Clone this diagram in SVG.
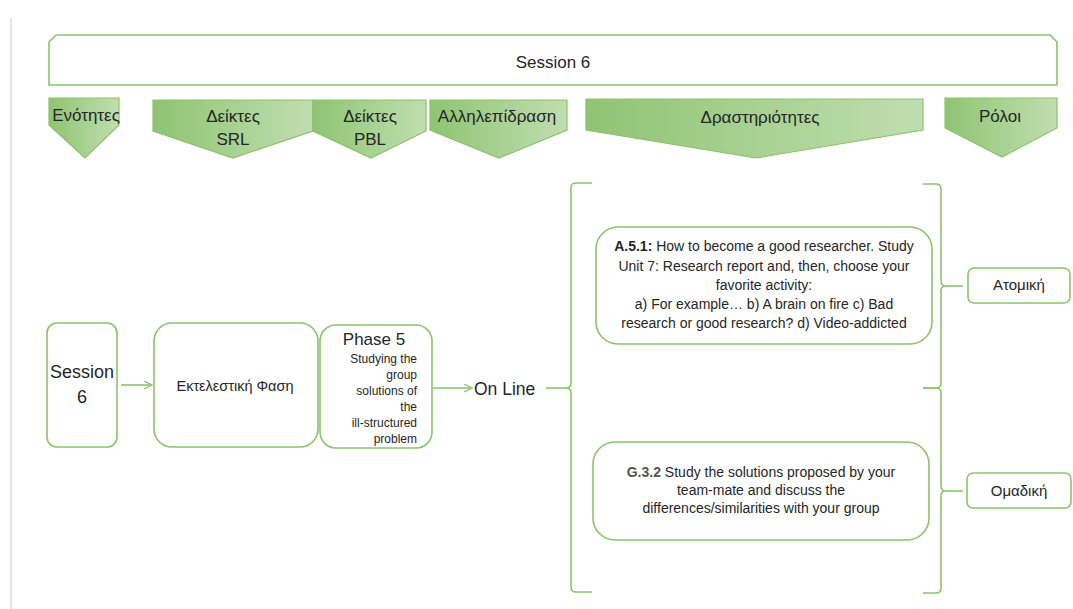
<svg xmlns="http://www.w3.org/2000/svg" width="1073" height="609" viewBox="0 0 1073 609">
<defs>
<linearGradient id="chev" x1="0" y1="0" x2="1" y2="0">
<stop offset="0" stop-color="#8fc473"/>
<stop offset="1" stop-color="#c0deb0"/>
</linearGradient>
<marker id="arr" markerWidth="10" markerHeight="10" refX="8" refY="4" orient="auto" markerUnits="userSpaceOnUse">
<path d="M0,0 L8,4 L0,8" fill="none" stroke="#8cc36b" stroke-width="1.3"/>
</marker>
<style>
text{font-family:"Liberation Sans",Arial,sans-serif;fill:#262626}
.chev{fill:url(#chev);stroke:#8bc16a;stroke-width:1.2}
.box{fill:#fff;stroke:#8cc36b;stroke-width:1.6}
.hd{font-size:17px;text-anchor:middle}
.mid{text-anchor:middle}
.con{fill:none;stroke:#8cc36b;stroke-width:1.6}
.body{font-size:14px;text-anchor:middle}
</style>
</defs>
<rect width="1073" height="609" fill="#fff"/>
<line x1="11" y1="18" x2="11" y2="609" stroke="#d4d4d4" stroke-width="1.2"/>

<g id="header">
<path class="box" d="M56,35 H1050 L1057,42 V85 H49 V42 Z"/>
<text class="hd" x="553" y="68">Session 6</text>
</g>

<g id="col-enotites">
<path class="chev" d="M49,98 H119 V125 L85,158 L49,125 Z"/>
<text class="hd" x="86" y="121">Ενότητες</text>
</g>
<g id="col-srl">
<path class="chev" d="M153,100 H313 V131 L233,158 L153,131 Z"/>
<text class="hd" x="233" y="122">Δείκτες</text>
<text class="hd" x="233" y="145">SRL</text>
</g>
<g id="col-pbl">
<path class="chev" d="M313,100 H426 V131 L371,158 L313,131 Z"/>
<text class="hd" x="370" y="122">Δείκτες</text>
<text class="hd" x="370" y="145">PBL</text>
</g>
<g id="col-interaction">
<path class="chev" d="M430,100 H567 V130 L499,158 L430,130 Z"/>
<text class="hd" x="497" y="122">Αλληλεπίδραση</text>
</g>
<g id="col-activities">
<path class="chev" d="M586,99 H923 V130 L756,158 L586,130 Z"/>
<text class="hd" x="760" y="123">Δραστηριότητες</text>
</g>
<g id="col-roles">
<path class="chev" d="M945,98 H1057 V128 L1002,157 L945,128 Z"/>
<text class="hd" x="1000" y="122">Ρόλοι</text>
</g>

<g id="node-session">
<rect class="box" x="47" y="323" width="70" height="124" rx="10"/>
<text class="mid" x="82" y="378" font-size="18">Session</text>
<text class="mid" x="82" y="403" font-size="18">6</text>
</g>
<g id="node-phase-exec">
<rect class="box" x="154" y="323" width="164" height="124" rx="18"/>
<text class="mid" x="235" y="391" font-size="14.5">Εκτελεστική Φαση</text>
</g>
<g id="node-phase5">
<rect class="box" x="320" y="325" width="112" height="123" rx="16"/>
<text class="mid" x="374" y="345" font-size="17">Phase 5</text>
<g font-size="12" text-anchor="end">
<text x="417" y="363">Studying the</text>
<text x="417" y="379">group</text>
<text x="417" y="395">solutions of</text>
<text x="417" y="411">the</text>
<text x="417" y="427">ill-structured</text>
<text x="417" y="443">problem</text>
</g>
</g>
<g id="node-online">
<text x="474" y="395" font-size="17.5">On Line</text>
</g>
<g id="node-a51">
<rect class="box" x="596" y="227" width="336" height="117" rx="22"/>
<text class="body" x="764" y="251"><tspan font-weight="bold">A.5.1:</tspan> How to become a good researcher. Study</text>
<text class="body" x="764" y="271">Unit 7: Research report and, then, choose your</text>
<text class="body" x="764" y="290">favorite activity:</text>
<text class="body" x="764" y="309">a) For example… b) A brain on fire c) Bad</text>
<text class="body" x="764" y="328">research or good research? d) Video-addicted</text>
</g>
<g id="node-g32">
<rect class="box" x="593" y="442" width="336" height="98" rx="22"/>
<text class="body" x="761" y="477"><tspan font-weight="bold" fill="#555">G.3.2</tspan> Study the solutions proposed by your</text>
<text class="body" x="761" y="495">team-mate and discuss the</text>
<text class="body" x="761" y="513">differences/similarities with your group</text>
</g>
<g id="node-individual">
<rect class="box" x="968" y="268" width="102" height="35" rx="6"/>
<text class="mid" x="1019" y="290" font-size="15">Ατομική</text>
</g>
<g id="node-group">
<rect class="box" x="967" y="473" width="104" height="35" rx="6"/>
<text class="mid" x="1019" y="496" font-size="15">Ομαδική</text>
</g>

<g id="connectors">
<line class="con" x1="121" y1="385" x2="152" y2="385" marker-end="url(#arr)"/>
<line class="con" x1="433" y1="388" x2="472" y2="388" marker-end="url(#arr)"/>
<path class="con" d="M546,388 H566"/>
<path class="con" d="M592,183 H576 Q571,183 571,188 V383 Q571,388 566,388 Q571,388 571,393 V587 Q571,592 576,592 H592"/>
<path class="con" d="M923,184 H936 Q941,184 941,189 V281 Q941,286 946,286 Q941,286 941,291 V383 Q941,388 936,388 H923"/>
<path class="con" d="M946,286 H963"/>
<path class="con" d="M923,388 H936 Q941,388 941,393 V486 Q941,491 946,491 Q941,491 941,496 V588 Q941,593 936,593 H923"/>
<path class="con" d="M946,491 H963"/>
</g>
</svg>
